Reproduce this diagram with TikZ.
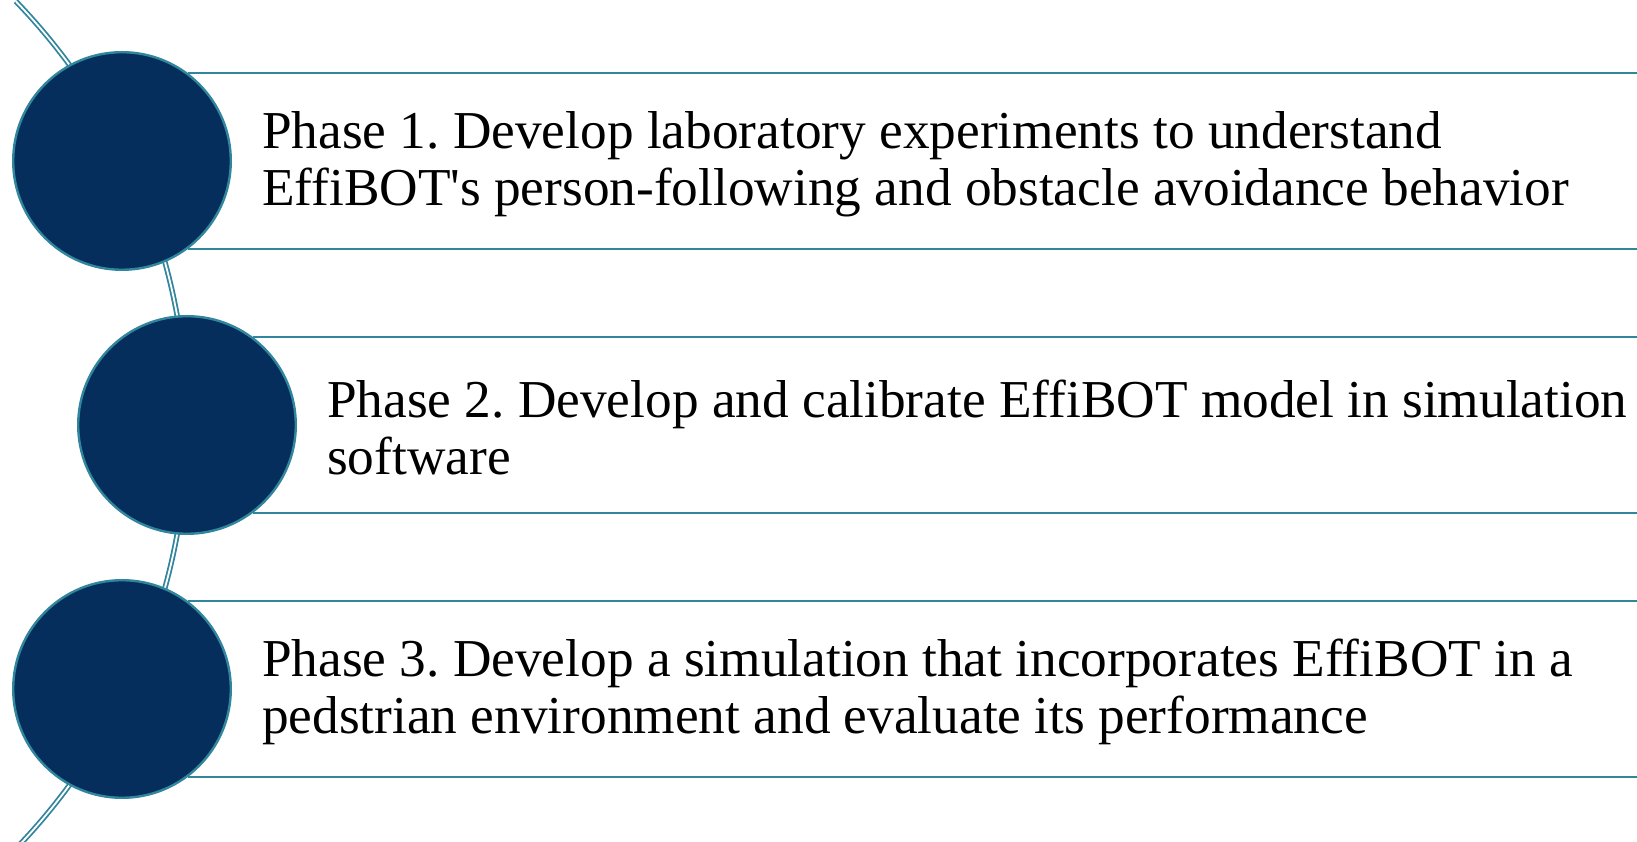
\documentclass[tikz,border=0pt]{standalone}
\usepackage{fontspec}
\setmainfont{Liberation Serif}
\usetikzlibrary{positioning}
\definecolor{phasenavy}{RGB}{5,46,92}
\definecolor{phaseteal}{RGB}{49,133,156}
\tikzset{
  phasedot/.style={circle,draw=phaseteal,line width=2.4pt,fill=phasenavy,minimum size=217.6pt,inner sep=0pt},
  bandline/.style={phaseteal,line width=2.4pt},
  phasetext/.style={anchor=west,align=left,inner sep=0pt,yshift=-3pt,font=\fontsize{53.3}{57}\selectfont\frenchspacing},
}
\begin{document}
\begin{tikzpicture}[x=1pt,y=1pt]
\useasboundingbox (0,0) rectangle (1637,842);
\coordinate (edge) at (1637,0);
\draw[phaseteal,line width=1.8pt,double=white,double distance=1.8pt] (-423,417) ++(-44:610) arc[start angle=-44,end angle=44,radius=610];
\node[phasedot] (c1) at (122,681) {};
\node[phasedot] (c2) at (187,417) {};
\node[phasedot] (c3) at (122,153) {};
\draw[bandline] (c1.53) -- (c1.53 -| edge);
\draw[bandline] (c1.-53) -- (c1.-53 -| edge);
\draw[bandline] (c2.53) -- (c2.53 -| edge);
\draw[bandline] (c2.-53) -- (c2.-53 -| edge);
\draw[bandline] (c3.53) -- (c3.53 -| edge);
\draw[bandline] (c3.-53) -- (c3.-53 -| edge);
\node[phasetext,right=30pt of c1] (t1) {Phase 1. Develop laboratory experiments to understand\\EffiBOT\textquotesingle s person-following and obstacle avoidance behavior};
\node[phasetext,right=30pt of c2] (t2) {Phase 2. Develop and calibrate EffiBOT model in simulation\\software};
\node[phasetext,right=30pt of c3] (t3) {Phase 3. Develop a simulation that incorporates EffiBOT in a\\pedstrian environment and evaluate its performance};
\end{tikzpicture}
\end{document}
